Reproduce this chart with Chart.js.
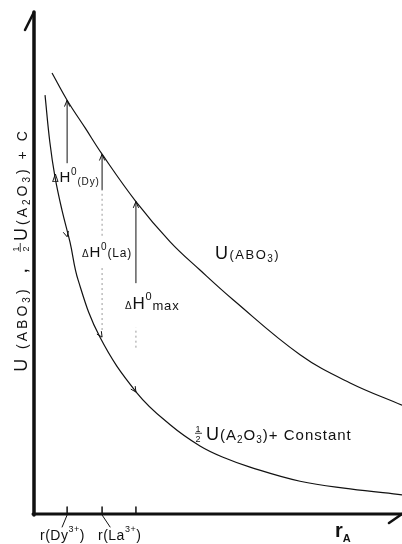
<!DOCTYPE html>
<html>
<head>
<meta charset="utf-8">
<script src="https://cdn.jsdelivr.net/npm/chart.js"></script>
<style>
  body { margin: 0; background: #fff; }
  canvas { display: block; }
</style>
</head>
<body>
<canvas id="chart" width="402" height="544"></canvas>
<script>
'use strict';

// DATA (arbitrary units: x 0-100, y 0-100)
let upperX = [4.9, 9.0, 13.9, 18.5, 27.7, 37.0, 45.1, 54.1, 72.3, 85.9, 100];
let upperY = [87.5, 82.1, 76.6, 71.4, 62.0, 54.0, 48.4, 42.5, 31.6, 26.0, 21.6];

let lowerX = [3.0, 4.3, 5.7, 7.6, 9.8, 12.0, 17.9, 28.0, 37.0, 45.1, 51.9, 58.7, 72.3, 85.9, 100];
let lowerY = [83.1, 73.8, 66.9, 60.3, 53.9, 46.4, 35.1, 24.0, 17.7, 13.5, 11.1, 9.3, 6.5, 5.0, 3.8];

// r(Dy3+), r(La3+), r at max
let tickX = [9.0, 18.5, 27.7];

// vertical ΔH arrows
let arrowTop = [82.1, 71.4, 62.0];
let arrowBase = [69.6, 64.3, 45.8];
// faded (dotted) pieces of the arrows
let fadedX = [18.5, 18.5, 27.7];
let fadedFrom = [55.2, 36.5, 33.0];
let fadedTo = [64.3, 48.8, 37.0];

// small arrow marks on the lower curve
let markY = [55.0, 35.1, 24.2];

// HELPERS
const FONT = '"Liberation Sans", Arial, sans-serif';

function font(size, weight) {
  return (weight || 'normal') + ' ' + size + 'px ' + FONT;
}

function pairs(xs, ys) {
  let out = [];
  for (let i = 0; i < xs.length; i++) {
    out.push({ x: xs[i], y: ys[i] });
  }
  return out;
}

// draws a row of text pieces, returns its width
function drawRich(ctx, x, y, parts, spacing, measureOnly) {
  let cx = x;
  ctx.letterSpacing = (spacing || 0) + 'px';
  ctx.textAlign = 'left';
  ctx.textBaseline = 'alphabetic';
  for (let p of parts) {
    if (p.frac) {
      ctx.font = font(p.s);
      let w = ctx.measureText('2').width;
      if (!measureOnly) {
        ctx.fillText('1', cx + 0.5, y - p.s * 0.9);
        ctx.fillText('2', cx + 0.5, y + p.s * 0.25);
        ctx.fillRect(cx, y - p.s * 0.8, w + 1, 0.8);
      }
      cx += w + 1 + (p.gap || 0);
    } else {
      ctx.font = font(p.s, p.w);
      if (!measureOnly) ctx.fillText(p.t, cx, y + (p.dy || 0));
      cx += ctx.measureText(p.t).width + (p.gap || 0);
    }
  }
  return cx - x;
}

function line(ctx, pts, width) {
  ctx.beginPath();
  ctx.lineWidth = width;
  ctx.moveTo(pts[0], pts[1]);
  for (let i = 2; i < pts.length; i += 2) ctx.lineTo(pts[i], pts[i + 1]);
  ctx.stroke();
}

// PLUGIN: axes, arrow heads, texts
const decor = {
  id: 'decor',
  afterDatasetsDraw(chart) {
    let ctx = chart.ctx;
    let xs = chart.scales.x;
    let ys = chart.scales.y;
    let area = chart.chartArea;
    ctx.save();
    ctx.strokeStyle = '#111';
    ctx.fillStyle = '#111';
    ctx.lineCap = 'round';

    // axes
    line(ctx, [area.left, area.top + 2, area.left, area.bottom + 1], 3.5);
    line(ctx, [area.left, area.top + 2, area.left - 9, area.top + 20], 2.5);
    line(ctx, [area.left - 1, area.bottom, area.right, area.bottom], 3);
    line(ctx, [area.right, area.bottom, area.right - 13, area.bottom + 9], 2.5);

    // ticks
    for (let i = 0; i < tickX.length; i++) {
      let px = xs.getPixelForValue(tickX[i]);
      line(ctx, [px, area.bottom - 7, px, area.bottom], 1.5);
    }
    // leaders to tick labels
    let pDy = xs.getPixelForValue(tickX[0]);
    let pLa = xs.getPixelForValue(tickX[1]);
    line(ctx, [pDy, area.bottom + 1, pDy - 5, area.bottom + 13], 1);
    line(ctx, [pLa, area.bottom + 1, pLa + 8, area.bottom + 13], 1);

    // arrow heads on the ΔH arrows
    for (let i = 0; i < arrowTop.length; i++) {
      let px = xs.getPixelForValue(tickX[i]);
      let py = ys.getPixelForValue(arrowTop[i]);
      line(ctx, [px - 2.5, py + 6, px, py, px + 2.5, py + 6], 1);
    }

    // arrow marks along the lower curve
    for (let i = 0; i < markY.length; i++) {
      let k = 0;
      while (k < lowerX.length - 2 && lowerX[k + 1] < tickX[i]) k++;
      let ax = xs.getPixelForValue(lowerX[k]), ay = ys.getPixelForValue(lowerY[k]);
      let bx = xs.getPixelForValue(lowerX[k + 1]), by = ys.getPixelForValue(lowerY[k + 1]);
      let len = Math.hypot(bx - ax, by - ay);
      let dx = (bx - ax) / len, dy = (by - ay) / len;
      let tx = xs.getPixelForValue(tickX[i]), ty = ys.getPixelForValue(markY[i]);
      line(ctx, [tx - dx * 5 - dy * 2.5, ty - dy * 5 + dx * 2.5, tx, ty,
                 tx - dx * 5 + dy * 2.5, ty - dy * 5 - dx * 2.5], 1);
    }

    // ΔH labels
    drawRich(ctx, 52, 182, [
      { t: 'Δ', s: 10 }, { t: 'H', s: 15 }, { t: '0', s: 10, dy: -7 }, { t: '(Dy)', s: 10, dy: 3 }
    ], 0.8);
    drawRich(ctx, 82, 257, [
      { t: 'Δ', s: 10 }, { t: 'H', s: 15 }, { t: '0', s: 10, dy: -7 }, { t: '(La)', s: 12 }
    ], 0.8);
    drawRich(ctx, 125, 309, [
      { t: 'Δ', s: 10 }, { t: 'H', s: 17 }, { t: '0', s: 11, dy: -9 }, { t: 'max', s: 13, dy: 1 }
    ], 0.8);

    // curve labels
    drawRich(ctx, 215, 259, [
      { t: 'U', s: 18 }, { t: '(ABO', s: 13 }, { t: '3', s: 10, dy: 3 }, { t: ')', s: 13 }
    ], 1.5);
    drawRich(ctx, 195, 440, [
      { frac: true, s: 9, gap: 4 }, { t: 'U', s: 18 }, { t: '(A', s: 15 }, { t: '2', s: 10, dy: 3 },
      { t: 'O', s: 15 }, { t: '3', s: 10, dy: 3 }, { t: ')+ ', s: 15 }, { t: 'Constant', s: 15 }
    ], 1);

    // tick labels
    drawRich(ctx, 40, 540, [
      { t: 'r(Dy', s: 14 }, { t: '3+', s: 9, dy: -8 }, { t: ')', s: 14 }
    ], 0.5);
    drawRich(ctx, 98, 540, [
      { t: 'r(La', s: 14 }, { t: '3+', s: 9, dy: -8 }, { t: ')', s: 14 }
    ], 0.5);

    // x title
    drawRich(ctx, 335, 537, [
      { t: 'r', s: 20, w: 'bold' }, { t: 'A', s: 11, w: 'bold', dy: 5 }
    ], 0);

    // y title (rotated)
    let titleParts = [
      { t: 'U', s: 18 }, { t: ' (ABO', s: 14 }, { t: '3', s: 10, dy: 3 }, { t: ')', s: 14 },
      { t: '  ,  ', s: 14, w: 'bold' },
      { frac: true, s: 9, gap: 2 }, { t: 'U', s: 18 }, { t: '(A', s: 14 }, { t: '2', s: 10, dy: 3 },
      { t: 'O', s: 14 }, { t: '3', s: 10, dy: 3 }, { t: ') + C', s: 14 }
    ];
    let tw = drawRich(ctx, 0, 0, titleParts, 3, true);
    ctx.translate(27, 250);
    ctx.rotate(-Math.PI / 2);
    drawRich(ctx, -tw / 2, 0, titleParts, 3);

    ctx.restore();
  }
};

// DATASETS
let datasets = [
  {
    data: pairs(upperX, upperY),
    borderColor: '#111',
    borderWidth: 1.2,
    tension: 0.4
  },
  {
    data: pairs(lowerX, lowerY),
    borderColor: '#111',
    borderWidth: 1.2,
    tension: 0.4
  }
];

for (let i = 0; i < arrowTop.length; i++) {
  datasets.push({
    data: [{ x: tickX[i], y: arrowBase[i] }, { x: tickX[i], y: arrowTop[i] }],
    borderColor: '#111',
    borderWidth: 1,
    tension: 0
  });
}
for (let i = 0; i < fadedX.length; i++) {
  datasets.push({
    data: [{ x: fadedX[i], y: fadedFrom[i] }, { x: fadedX[i], y: fadedTo[i] }],
    borderColor: '#999',
    borderWidth: 1,
    borderDash: [2, 3],
    tension: 0
  });
}

const ctx = document.getElementById('chart');
const myChart = new Chart(ctx, {
  type: 'line',
  data: { datasets: datasets },
  options: {
    responsive: false,
    animation: false,
    devicePixelRatio: 1,
    layout: { padding: { left: 34, right: 0, top: 10, bottom: 30 } },
    elements: { point: { radius: 0 } },
    plugins: {
      legend: { display: false },
      tooltip: { enabled: false }
    },
    scales: {
      x: { type: 'linear', min: 0, max: 100, display: false },
      y: { type: 'linear', min: 0, max: 100, display: false }
    }
  },
  plugins: [decor]
});
</script>
</body>
</html>
